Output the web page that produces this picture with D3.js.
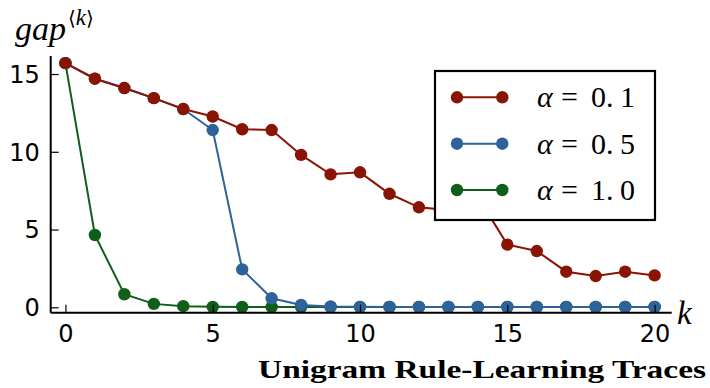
<!DOCTYPE html>
<html><head><meta charset="utf-8">
<script src="https://cdn.jsdelivr.net/npm/d3@7"></script>
<style>body{margin:0;background:#fff}svg{display:block}</style>
</head><body>
<script>
const ks = d3.range(0, 21);
const alpha01 = [15.7,14.7,14.1,13.45,12.75,12.27,11.45,11.4,9.8,8.55,8.68,7.3,6.43,6.25,7.1,4.03,3.62,2.29,2.01,2.29,2.05];
const alpha05 = [15.7,14.7,14.1,13.45,12.75,11.4,2.44,0.58,0.15,0.05,0.03,0.02,0.02,0.02,0.02,0.02,0.02,0.02,0.02,0.02,0.02];
const alpha10 = [15.7,4.65,0.84,0.22,0.07,0.03,0.02,0.02,0.02,0.02,0.02,0.02,0.02,0.02,0.02,0.02,0.02,0.02,0.02,0.02,0.02];
const seriesNames = ["0.1","0.5","1.0"];
const seriesColors = ["#8a1404","#2d6398","#0f5e19"];
const xTicks = [0,5,10,15,20];
const yTicks = [0,5,10,15];

const SERIF = "'Liberation Serif', 'Times New Roman', Times, serif";
const W=710,H=388;
const svg=d3.select("body").append("svg").attr("width",W).attr("height",H);
const x=d3.scaleLinear().domain([-0.5,20.58]).range([50.7,671.7]);
const y=d3.scaleLinear().domain([-0.347,16.16]).range([312.7,56]);

const series=[alpha01,alpha05,alpha10];
const line=d3.line().x((d,i)=>x(ks[i])).y(d=>y(d));
[2,1,0].forEach(si=>{
  const g=svg.append("g");
  g.append("path").attr("d",line(series[si])).attr("fill","none").attr("stroke",seriesColors[si]).attr("stroke-width",2);
  g.selectAll("circle").data(series[si]).join("circle")
    .attr("cx",(d,i)=>x(ks[i])).attr("cy",d=>y(d)).attr("r",6.2).attr("fill",seriesColors[si]);
});

const xAxis=d3.axisBottom(x).tickValues(xTicks).tickSizeInner(-8).tickSizeOuter(0);
const gx=svg.append("g").attr("transform",`translate(0,${y.range()[0]})`).call(xAxis);
gx.select(".domain").attr("stroke","#000").attr("stroke-width",2).attr("d",`M${x.range()[0]},0H${x.range()[1]}`);
gx.selectAll(".tick line").attr("stroke","#000").attr("stroke-width",1.2);
gx.selectAll(".tick text").attr("font-family","DejaVu Sans").attr("font-size",24).attr("fill","#000").attr("dy","0.71em").attr("y",12);

const yAxis=d3.axisLeft(y).tickValues(yTicks).tickSizeInner(-8).tickSizeOuter(0);
const gy=svg.append("g").attr("transform",`translate(${x.range()[0]},0)`).call(yAxis);
gy.select(".domain").attr("stroke","#000").attr("stroke-width",2).attr("d",`M0,${y.range()[0]}V${y.range()[1]}`);
gy.selectAll(".tick line").attr("stroke","#000").attr("stroke-width",1.2);
gy.selectAll(".tick text").attr("font-family","DejaVu Sans").attr("font-size",24).attr("fill","#000").attr("x",-11).attr("dy","0.35em");

const yl=svg.append("text").attr("x",15).attr("y",40).style("font-family",SERIF).attr("font-style","italic").attr("font-size",34).attr("fill","#000");
yl.append("tspan").text("gap");
yl.append("tspan").style("font-family","'DejaVu Serif'").attr("font-style","normal").attr("font-size",20).attr("dy",-15).attr("dx",2).text("⟨");
yl.append("tspan").attr("font-size",23).text("k");
yl.append("tspan").style("font-family","'DejaVu Serif'").attr("font-style","normal").attr("font-size",20).text("⟩");
svg.append("text").attr("x",677).attr("y",324).style("font-family",SERIF).attr("font-style","italic").attr("font-size",33).attr("fill","#000").text("k");

svg.append("text").attr("x",258).attr("y",378).style("font-family",SERIF).attr("font-weight","bold").attr("font-size",26)
  .attr("textLength",448).attr("lengthAdjust","spacingAndGlyphs").attr("fill","#000").text("Unigram Rule-Learning Traces");

const lg=svg.append("g");
lg.append("rect").attr("x",435).attr("y",71).attr("width",220).attr("height",149).attr("fill","#fff").attr("stroke","#000").attr("stroke-width",2.2);
const rowsY=[97.3,143.7,190];
seriesNames.forEach((n,i)=>{
  const ry=rowsY[i];
  lg.append("line").attr("x1",457).attr("x2",502.3).attr("y1",ry).attr("y2",ry).attr("stroke",seriesColors[i]).attr("stroke-width",2);
  [457,502.3].forEach(cx=>lg.append("circle").attr("cx",cx).attr("cy",ry).attr("r",6.2).attr("fill",seriesColors[i]));
  const t=lg.append("text").attr("y",ry+10).style("font-family",SERIF).attr("font-size",30).attr("fill","#000");
  const parts=n.split(".");
  t.append("tspan").attr("x",537).attr("font-style","italic").text("α");
  t.append("tspan").attr("x",561).text("=");
  t.append("tspan").attr("x",591).text(parts[0]);
  t.append("tspan").attr("x",606).text(".");
  t.append("tspan").attr("x",620).text(parts[1]);
});
</script>
</body></html>
